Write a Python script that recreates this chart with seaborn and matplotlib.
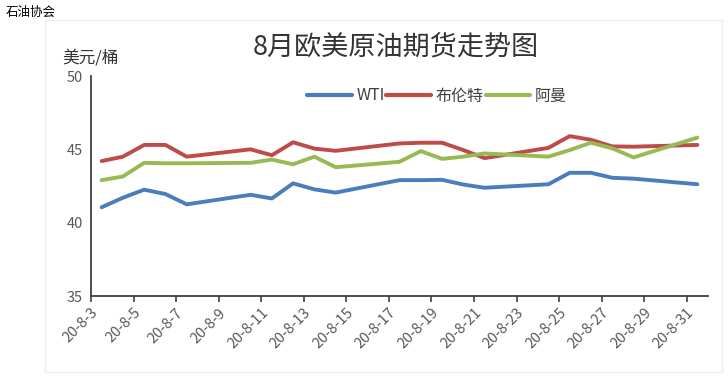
import matplotlib
matplotlib.use("Agg")
import matplotlib.pyplot as plt
import seaborn as sns
import pandas as pd
from matplotlib.patches import Rectangle

# ---- data ----
days = [3, 4, 5, 6, 7, 10, 11, 12, 13, 14, 17, 18, 19, 20, 21, 24, 25, 26, 27, 28, 31]
wti = [41.05, 41.7, 42.25, 41.95, 41.25, 41.9, 41.65, 42.68, 42.27, 42.05,
       42.9, 42.9, 42.92, 42.6, 42.38, 42.62, 43.4, 43.4, 43.06, 43.0, 42.62]
brent = [44.2, 44.5, 45.3, 45.3, 44.5, 45.0, 44.6, 45.48, 45.05, 44.9,
         45.4, 45.45, 45.45, 44.95, 44.4, 45.1, 45.9, 45.65, 45.2, 45.18, 45.3]
oman = [42.9, 43.15, 44.08, 44.05, 44.05, 44.08, 44.3, 43.98, 44.5, 43.78,
        44.15, 44.88, 44.35, 44.5, 44.72, 44.5, 44.95, 45.45, 45.07, 44.45, 45.8]
series_names = ["WTI", "布伦特", "阿曼"]
colors = ["#4A7EBB", "#BE4B48", "#98B954"]
tick_days = list(range(3, 32, 2))
tick_labels = [f"20-8-{d}" for d in tick_days]

sns.set_theme(style="white")
plt.rcParams["font.family"] = ["Noto Sans CJK SC", "DejaVu Sans"]

dates = pd.to_datetime([f"2020-08-{d:02d}" for d in days])
df = pd.DataFrame({"date": dates, "WTI": wti, "布伦特": brent, "阿曼": oman})
long = df.melt(id_vars="date", var_name="series", value_name="price")
# Excel date axis: points centred between tick marks
long["x"] = long["date"] + pd.Timedelta(hours=12)

fig = plt.figure(figsize=(7.28, 3.78), dpi=100)
ax = fig.add_axes([91 / 728, 1 - 296 / 378, (708 - 91) / 728, (296 - 76) / 378])

sns.lineplot(data=long, x="x", y="price", hue="series", hue_order=series_names,
             palette=colors, linewidth=2.8, ax=ax, legend=True)

ax.set_ylim(35, 50)
ax.set_yticks([35, 40, 45, 50])
ax.set_xlim(pd.Timestamp("2020-08-03"), pd.Timestamp("2020-09-01"))
tick_dates = pd.to_datetime([f"2020-08-{d:02d}" for d in tick_days])
ax.set_xticks(tick_dates)
ax.set_xticklabels(tick_labels, rotation=45, ha="right", rotation_mode="anchor",
                   fontsize=10.5, color="#595959")
ax.tick_params(axis="y", labelsize=10.5, labelcolor="#595959", length=0, pad=6)
ax.tick_params(axis="x", length=4, width=1.2, color="#404040", direction="out",
               bottom=True, pad=3)
ax.set_xlabel("")
ax.set_ylabel("")
for s in ["top", "right"]:
    ax.spines[s].set_visible(False)
for s in ["left", "bottom"]:
    ax.spines[s].set_color("#404040")
    ax.spines[s].set_linewidth(1.3)

leg = ax.legend(loc="center", bbox_to_anchor=(437 / 728, 1 - 96 / 378),
                bbox_transform=fig.transFigure, ncol=3, frameon=False,
                fontsize=11.5, handlelength=2.8, handletextpad=0.3,
                columnspacing=0.1)
for t in leg.get_texts():
    t.set_color("#404040")
for h in leg.get_lines():
    h.set_linewidth(3)

fig.text(396 / 728, 1 - 47 / 378, "8月欧美原油期货走势图", ha="center", va="center",
         fontsize=19.5, color="#333333")
fig.text(62 / 728, 1 - 58 / 378, "美元/桶", ha="left", va="center",
         fontsize=12, color="#333333")
fig.text(6 / 728, 1 - 12 / 378, "石油协会", ha="left", va="center",
         fontsize=9, color="#000000")

fig.patches.append(Rectangle((45 / 728, 1 - 372 / 378), (722 - 45) / 728, (372 - 20) / 378,
                             transform=fig.transFigure, fill=False,
                             edgecolor="#EEEEEE", linewidth=1))

fig.savefig("out.png", dpi=100)
